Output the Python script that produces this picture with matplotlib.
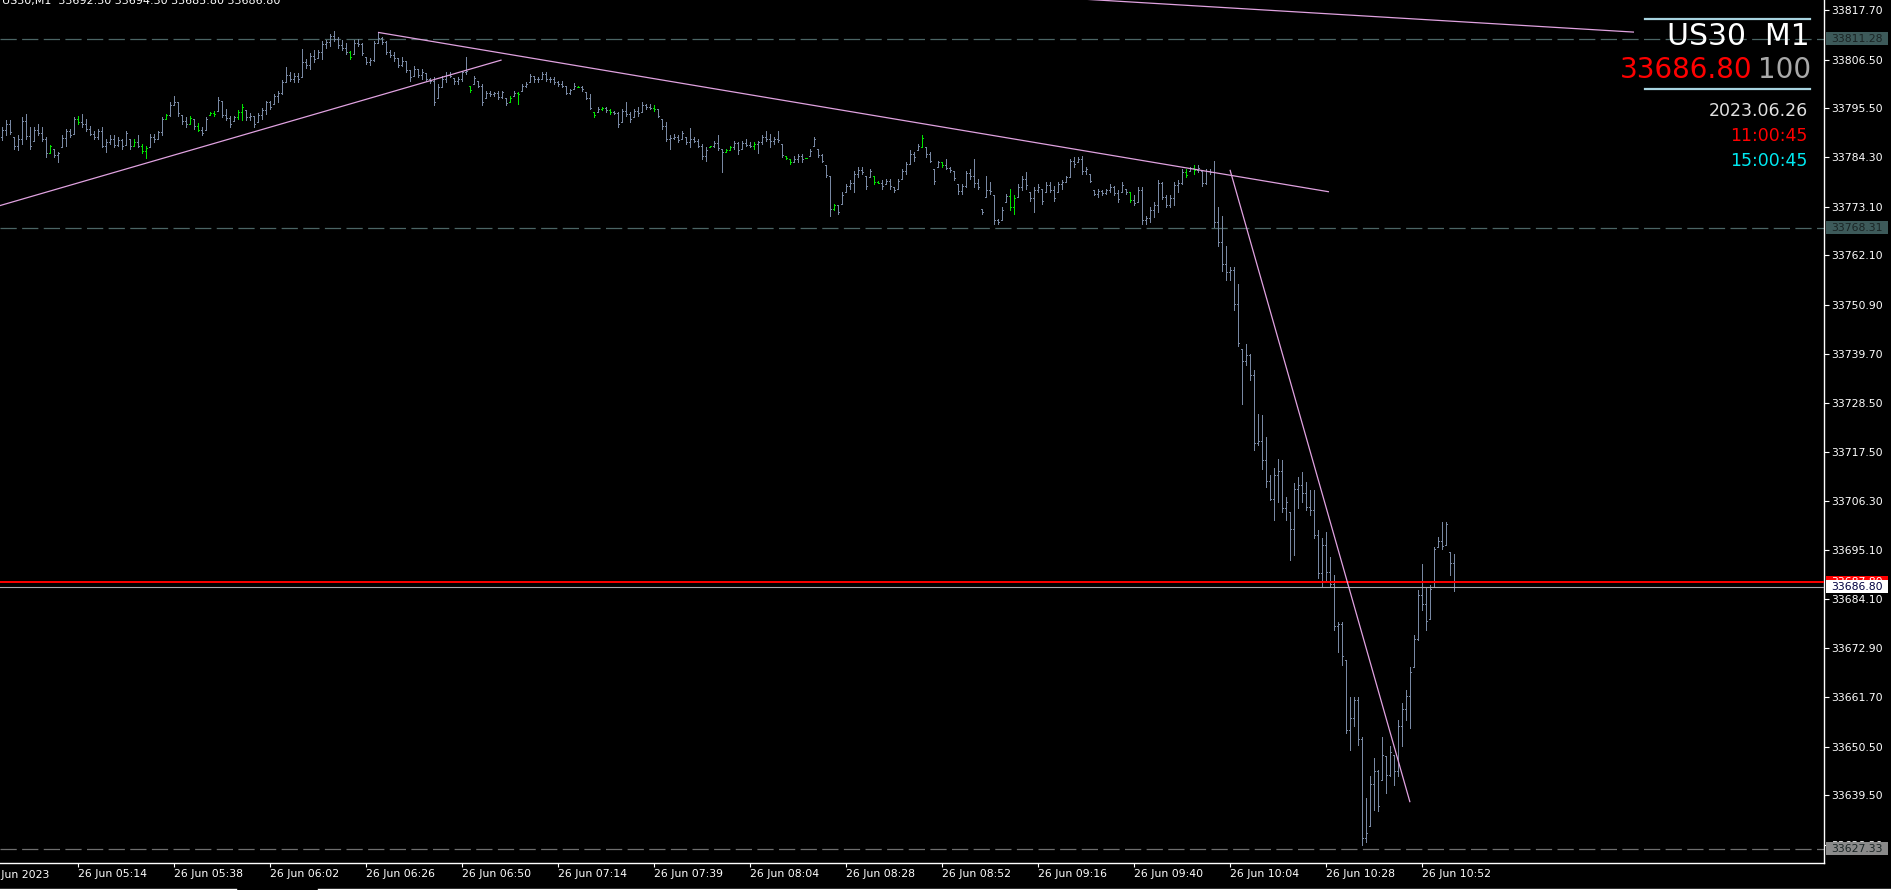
import matplotlib
matplotlib.use('Agg')
import matplotlib.pyplot as plt
from matplotlib.collections import LineCollection
from matplotlib.patches import Rectangle
from matplotlib.lines import Line2D
import matplotlib.transforms as mtransforms

# ---------------- data (US30, M1, 26 Jun 2023) ----------------
HIGH = [33791.2, 33792.7, 33792.8, 33788.9, 33789.3, 33793.4, 33794.2, 33791.2, 33791.2, 33791.9,
        33791.2, 33788.9, 33787.2, 33786.2, 33785.5, 33789.3, 33790.8, 33790.8, 33793.4, 33793.8,
        33794.2, 33793.0, 33791.5, 33790.4, 33790.8, 33791.2, 33788.5, 33789.3, 33789.3, 33788.9,
        33788.5, 33790.4, 33788.5, 33788.5, 33789.3, 33787.4, 33786.8, 33789.6, 33789.6, 33790.4,
        33793.4, 33794.2, 33796.8, 33798.3, 33796.8, 33794.0, 33793.4, 33793.8, 33793.0, 33792.1,
        33791.3, 33793.4, 33794.6, 33794.8, 33798.0, 33797.2, 33795.3, 33793.6, 33793.8, 33795.1,
        33796.5, 33795.1, 33794.3, 33793.8, 33794.3, 33795.5, 33797.2, 33797.2, 33798.6, 33799.3,
        33801.9, 33804.8, 33803.6, 33803.4, 33803.4, 33808.9, 33806.7, 33808.0, 33808.7, 33808.7,
        33810.7, 33811.0, 33812.3, 33812.9, 33811.6, 33811.0, 33810.2, 33808.4, 33811.0, 33811.2,
        33810.2, 33807.2, 33806.9, 33810.8, 33812.7, 33811.7, 33810.8, 33808.7, 33808.2, 33806.9,
        33807.0, 33806.3, 33804.2, 33805.1, 33804.4, 33804.4, 33803.4, 33802.3, 33802.5, 33801.0,
        33802.9, 33803.6, 33803.6, 33802.3, 33802.5, 33804.0, 33807.2, 33800.6, 33802.9, 33801.7,
        33801.0, 33799.5, 33799.5, 33799.1, 33799.5, 33799.5, 33797.9, 33798.3, 33799.5, 33799.1,
        33801.0, 33801.4, 33803.2, 33802.9, 33802.5, 33803.6, 33803.6, 33802.5, 33802.5, 33801.7,
        33801.7, 33800.6, 33799.8, 33801.1, 33800.6, 33800.6, 33799.1, 33798.7, 33794.6, 33795.7,
        33795.7, 33795.7, 33795.3, 33794.9, 33794.6, 33795.3, 33796.8, 33794.6, 33795.3, 33795.7,
        33796.8, 33796.4, 33796.4, 33796.1, 33795.3, 33793.0, 33792.3, 33789.3, 33789.6, 33789.3,
        33790.4, 33788.9, 33791.1, 33788.9, 33788.5, 33787.4, 33786.6, 33787.0, 33788.1, 33789.3,
        33786.2, 33786.2, 33787.0, 33788.1, 33787.7, 33788.1, 33788.5, 33787.8, 33787.8, 33788.1,
        33789.3, 33790.4, 33789.7, 33788.9, 33790.4, 33787.4, 33784.7, 33784.0, 33784.7, 33785.1,
        33785.1, 33784.2, 33786.2, 33788.9, 33786.2, 33785.1, 33782.5, 33780.2, 33773.8, 33773.4,
        33776.4, 33778.3, 33779.1, 33781.3, 33782.1, 33782.1, 33780.2, 33781.7, 33780.2, 33778.9,
        33779.1, 33779.4, 33779.4, 33777.5, 33779.4, 33781.7, 33783.2, 33785.9, 33785.5, 33787.4,
        33789.3, 33786.6, 33785.5, 33781.7, 33783.6, 33783.2, 33784.0, 33782.1, 33781.3, 33778.3,
        33778.3, 33781.3, 33781.7, 33784.0, 33779.4, 33772.6, 33780.2, 33778.7, 33775.7, 33770.4,
        33773.0, 33776.0, 33777.2, 33775.7, 33778.3, 33780.2, 33781.0, 33776.4, 33777.5, 33778.3,
        33777.2, 33778.7, 33778.7, 33777.9, 33778.7, 33779.1, 33780.2, 33784.0, 33784.4, 33784.4,
        33784.7, 33782.1, 33780.6, 33776.8, 33777.2, 33776.8, 33777.2, 33778.3, 33777.9, 33776.8,
        33778.7, 33777.2, 33776.4, 33775.7, 33777.5, 33777.5, 33771.1, 33773.0, 33774.1, 33779.1,
        33778.7, 33775.7, 33775.7, 33778.7, 33779.1, 33781.7, 33781.7, 33782.1, 33782.5, 33782.5,
        33781.3, 33781.7, 33781.7, 33783.6, 33773.0, 33771.1, 33764.3, 33759.4, 33759.4, 33755.6,
        33740.9, 33742.0, 33739.7, 33736.0, 33726.1, 33725.8, 33720.8, 33712.2, 33713.7, 33715.9,
        33715.6, 33707.2, 33703.8, 33710.3, 33711.8, 33712.9, 33710.6, 33708.8, 33708.8, 33699.7,
        33697.8, 33699.3, 33693.6, 33689.5, 33678.9, 33678.9, 33670.2, 33661.9, 33661.9, 33661.9,
        33652.8, 33638.8, 33643.8, 33647.9, 33645.3, 33652.8, 33648.3, 33650.6, 33648.7, 33656.6,
        33660.4, 33663.4, 33668.7, 33675.9, 33686.1, 33692.1, 33686.8, 33687.2, 33695.9, 33698.2,
        33701.6, 33701.6, 33694.8, 33694.3]

LOW = [33788.3, 33789.3, 33789.6, 33786.2, 33785.9, 33787.4, 33788.5, 33786.2, 33788.1, 33789.3,
       33788.1, 33784.4, 33785.3, 33784.4, 33783.2, 33786.6, 33787.0, 33788.9, 33789.6, 33791.9,
       33791.2, 33790.4, 33789.3, 33788.5, 33788.5, 33786.6, 33785.5, 33787.4, 33786.6, 33786.8,
       33786.2, 33787.2, 33786.2, 33786.8, 33786.6, 33785.3, 33784.2, 33786.6, 33787.8, 33788.5,
       33789.3, 33793.0, 33793.8, 33796.1, 33793.8, 33791.9, 33791.2, 33791.9, 33790.8, 33790.2,
       33789.3, 33790.5, 33794.0, 33793.6, 33794.8, 33793.4, 33792.7, 33791.2, 33792.5, 33793.0,
       33792.7, 33792.7, 33792.7, 33791.2, 33792.3, 33793.0, 33794.2, 33795.3, 33796.5, 33796.8,
       33798.6, 33801.4, 33801.7, 33801.4, 33801.5, 33802.5, 33804.6, 33804.4, 33805.9, 33806.9,
       33806.7, 33809.1, 33809.5, 33810.7, 33809.1, 33808.6, 33807.8, 33806.7, 33807.8, 33809.5,
       33807.6, 33805.5, 33805.4, 33806.1, 33810.2, 33810.1, 33807.8, 33807.0, 33806.3, 33804.8,
       33805.1, 33803.6, 33801.7, 33802.7, 33802.5, 33802.1, 33801.7, 33801.1, 33796.2, 33797.9,
       33800.2, 33801.4, 33802.5, 33801.0, 33801.0, 33801.7, 33803.2, 33799.1, 33801.0, 33800.2,
       33796.1, 33797.9, 33798.3, 33798.3, 33797.6, 33797.9, 33796.1, 33796.8, 33798.3, 33796.4,
       33799.5, 33800.2, 33801.4, 33801.4, 33801.4, 33802.1, 33801.7, 33801.4, 33801.0, 33800.6,
       33800.2, 33798.7, 33798.7, 33799.8, 33800.2, 33799.5, 33797.6, 33795.3, 33793.4, 33794.6,
       33795.1, 33794.6, 33794.2, 33794.2, 33791.2, 33792.3, 33793.8, 33792.3, 33793.4, 33793.8,
       33794.6, 33795.3, 33795.3, 33794.9, 33793.4, 33790.8, 33788.1, 33786.2, 33788.5, 33787.7,
       33788.5, 33787.4, 33786.6, 33787.7, 33786.6, 33784.0, 33783.6, 33786.6, 33786.6, 33785.9,
       33780.9, 33785.5, 33785.9, 33786.2, 33785.1, 33786.2, 33787.0, 33786.6, 33786.2, 33785.3,
       33787.4, 33788.1, 33786.6, 33787.4, 33787.8, 33784.4, 33784.0, 33782.8, 33783.2, 33783.2,
       33783.2, 33784.1, 33784.7, 33787.0, 33784.4, 33783.2, 33779.8, 33771.1, 33772.3, 33771.5,
       33773.8, 33776.4, 33777.2, 33776.4, 33779.8, 33780.6, 33777.2, 33779.8, 33778.3, 33778.5,
       33777.2, 33778.3, 33777.2, 33776.4, 33777.2, 33779.4, 33780.6, 33782.8, 33783.6, 33785.9,
       33786.6, 33784.4, 33783.2, 33778.3, 33782.1, 33782.1, 33781.7, 33781.0, 33779.1, 33776.0,
       33776.0, 33777.5, 33779.4, 33777.5, 33777.2, 33771.5, 33775.3, 33776.0, 33769.2, 33769.2,
       33770.0, 33774.2, 33772.3, 33771.5, 33775.3, 33776.8, 33777.2, 33774.5, 33771.9, 33776.4,
       33773.8, 33776.4, 33776.4, 33774.5, 33776.4, 33777.2, 33778.7, 33779.8, 33782.1, 33783.2,
       33780.6, 33780.6, 33778.7, 33775.7, 33775.3, 33775.7, 33776.0, 33776.4, 33775.7, 33774.2,
       33776.4, 33776.0, 33774.1, 33773.4, 33774.1, 33769.2, 33769.2, 33769.6, 33770.7, 33771.9,
       33774.9, 33773.0, 33773.0, 33773.4, 33776.4, 33778.3, 33779.8, 33781.3, 33780.6, 33781.0,
       33777.9, 33778.3, 33780.6, 33768.5, 33764.3, 33758.6, 33756.4, 33756.4, 33749.6, 33741.6,
       33728.4, 33737.1, 33733.7, 33717.8, 33718.9, 33713.6, 33709.5, 33706.5, 33702.0, 33706.1,
       33703.8, 33702.0, 33692.9, 33694.0, 33704.6, 33706.1, 33704.2, 33703.1, 33697.8, 33688.7,
       33686.8, 33688.4, 33686.8, 33677.0, 33672.1, 33669.1, 33653.6, 33649.8, 33655.1, 33650.9,
       33628.3, 33628.8, 33632.4, 33636.2, 33635.8, 33643.0, 33640.0, 33643.8, 33641.9, 33643.8,
       33650.6, 33656.6, 33654.7, 33668.7, 33674.7, 33681.5, 33677.0, 33679.6, 33686.8, 33695.9,
       33695.5, 33696.3, 33689.5, 33685.8]

OPEN = [33789.0, 33790.5, 33791.8, 33788.9, 33786.8, 33788.6, 33792.5, 33789.2, 33788.1, 33790.6,
        33789.8, 33788.5, 33785.3, 33786.2, 33784.8, 33786.6, 33788.8, 33790.2, 33789.6, 33793.0,
        33792.4, 33791.8, 33790.8, 33789.7, 33789.0, 33790.3, 33787.0, 33787.8, 33788.6, 33787.2,
        33788.2, 33787.2, 33788.5, 33787.0, 33787.8, 33787.0, 33785.8, 33786.6, 33789.0, 33788.5,
        33790.0, 33793.0, 33793.9, 33796.2, 33796.8, 33794.0, 33792.6, 33792.0, 33793.0, 33791.4,
        33790.6, 33790.5, 33794.0, 33794.5, 33794.8, 33797.2, 33794.0, 33793.2, 33792.5, 33793.4,
        33794.6, 33795.1, 33793.4, 33793.8, 33792.3, 33793.9, 33795.0, 33796.8, 33796.5, 33798.2,
        33798.9, 33801.5, 33803.0, 33802.2, 33802.8, 33802.5, 33806.0, 33805.2, 33807.4, 33806.9,
        33808.2, 33810.0, 33810.6, 33811.8, 33811.2, 33809.8, 33809.2, 33808.2, 33807.8, 33810.4,
        33810.0, 33807.2, 33806.0, 33806.4, 33810.2, 33811.5, 33810.6, 33808.2, 33807.6, 33806.8,
        33805.4, 33806.2, 33804.2, 33802.7, 33804.4, 33803.0, 33803.4, 33802.2, 33801.6, 33797.9,
        33800.4, 33802.2, 33803.0, 33802.3, 33801.6, 33802.2, 33803.6, 33800.6, 33801.0, 33801.7,
        33800.6, 33797.9, 33799.0, 33798.6, 33798.9, 33798.0, 33797.9, 33796.8, 33798.3, 33799.0,
        33799.5, 33800.6, 33801.4, 33802.8, 33802.0, 33802.2, 33803.2, 33802.0, 33802.2, 33801.4,
        33801.0, 33800.6, 33799.0, 33799.8, 33800.4, 33800.4, 33799.1, 33797.8, 33794.6, 33794.6,
        33795.2, 33795.6, 33795.0, 33794.6, 33794.4, 33792.3, 33794.8, 33794.2, 33793.4, 33794.8,
        33794.6, 33796.2, 33795.8, 33795.6, 33795.3, 33793.0, 33791.4, 33788.6, 33788.8, 33789.0,
        33788.5, 33788.9, 33787.8, 33788.6, 33788.0, 33787.0, 33784.6, 33786.6, 33786.8, 33787.6,
        33786.2, 33785.6, 33786.0, 33786.6, 33787.6, 33786.2, 33787.6, 33787.2, 33786.8, 33787.4,
        33787.8, 33789.0, 33788.6, 33788.0, 33788.6, 33787.4, 33784.7, 33784.0, 33783.2, 33784.0,
        33784.6, 33784.1, 33784.7, 33787.0, 33786.2, 33784.8, 33782.5, 33780.2, 33772.6, 33773.4,
        33773.8, 33776.4, 33777.8, 33778.4, 33780.6, 33781.4, 33780.2, 33779.8, 33780.2, 33778.8,
        33778.6, 33778.3, 33779.0, 33777.5, 33777.2, 33779.4, 33781.2, 33782.8, 33785.0, 33785.9,
        33786.6, 33786.6, 33785.0, 33781.7, 33782.1, 33783.2, 33782.6, 33782.0, 33781.3, 33778.3,
        33776.6, 33777.8, 33780.8, 33780.0, 33778.4, 33772.6, 33775.3, 33777.0, 33775.7, 33770.0,
        33770.0, 33774.2, 33775.6, 33773.0, 33775.3, 33777.6, 33779.4, 33776.4, 33775.0, 33776.8,
        33777.2, 33776.4, 33778.0, 33777.0, 33776.4, 33778.2, 33778.8, 33779.8, 33783.4, 33783.2,
        33784.0, 33781.2, 33780.6, 33776.8, 33776.0, 33776.6, 33776.2, 33776.8, 33777.6, 33776.2,
        33776.4, 33777.2, 33776.4, 33774.6, 33774.1, 33776.8, 33770.0, 33770.6, 33772.4, 33773.6,
        33778.4, 33775.4, 33773.6, 33775.0, 33778.0, 33778.6, 33781.0, 33781.3, 33781.8, 33781.4,
        33781.3, 33778.6, 33781.2, 33781.0, 33769.6, 33765.0, 33760.0, 33758.2, 33758.8, 33751.0,
        33740.9, 33738.0, 33739.4, 33735.0, 33719.4, 33720.0, 33715.6, 33710.8, 33706.8, 33712.2,
        33713.0, 33704.8, 33703.8, 33700.0, 33709.0, 33710.0, 33708.2, 33705.0, 33704.2, 33698.6,
        33690.0, 33696.2, 33690.2, 33687.4, 33678.0, 33678.4, 33670.2, 33654.2, 33657.0, 33661.0,
        33652.2, 33629.8, 33632.4, 33642.0, 33645.0, 33643.0, 33648.3, 33644.0, 33648.7, 33645.0,
        33655.2, 33659.0, 33662.0, 33668.7, 33675.0, 33685.0, 33683.0, 33679.6, 33686.8, 33695.9,
        33697.2, 33696.3, 33694.8, 33692.3]

CLOSE = [33790.5, 33791.8, 33790.0, 33786.8, 33788.6, 33792.5, 33789.2, 33787.0, 33790.6, 33789.8,
         33788.5, 33785.2, 33786.9, 33784.8, 33785.2, 33788.8, 33790.2, 33789.4, 33793.0, 33792.4,
         33791.8, 33790.8, 33789.7, 33789.0, 33790.3, 33787.0, 33787.8, 33788.6, 33787.2, 33788.2,
         33786.9, 33789.8, 33787.0, 33787.8, 33787.0, 33785.8, 33786.4, 33789.0, 33788.4, 33790.0,
         33793.0, 33793.9, 33796.2, 33797.0, 33794.3, 33792.6, 33792.0, 33793.2, 33791.4, 33790.6,
         33789.8, 33793.0, 33794.5, 33794.2, 33797.4, 33794.0, 33793.2, 33792.0, 33793.4, 33794.6,
         33795.8, 33793.4, 33793.8, 33792.0, 33793.9, 33795.0, 33796.8, 33795.8, 33798.2, 33798.9,
         33801.5, 33803.0, 33802.2, 33802.8, 33802.0, 33806.0, 33805.2, 33807.4, 33806.6, 33808.2,
         33810.0, 33810.6, 33811.8, 33811.2, 33809.8, 33809.2, 33808.2, 33807.2, 33810.4, 33810.0,
         33808.0, 33806.0, 33806.4, 33810.2, 33811.5, 33810.6, 33808.2, 33807.6, 33806.8, 33805.4,
         33806.2, 33804.2, 33802.6, 33804.4, 33803.0, 33803.8, 33802.2, 33801.6, 33797.0, 33800.4,
         33802.2, 33803.0, 33802.8, 33801.6, 33802.2, 33803.6, 33804.0, 33799.6, 33802.4, 33800.6,
         33796.8, 33799.0, 33798.6, 33798.9, 33798.0, 33799.2, 33796.6, 33797.8, 33799.0, 33798.6,
         33800.6, 33801.0, 33802.8, 33802.0, 33802.2, 33803.2, 33802.0, 33802.2, 33801.4, 33801.0,
         33800.6, 33799.0, 33799.6, 33800.6, 33800.4, 33799.8, 33797.8, 33795.6, 33794.0, 33795.2,
         33795.6, 33795.0, 33794.6, 33794.4, 33792.0, 33794.8, 33794.2, 33793.0, 33794.8, 33794.4,
         33796.2, 33795.8, 33795.6, 33795.4, 33793.8, 33791.4, 33788.6, 33788.8, 33789.0, 33788.2,
         33789.8, 33787.8, 33788.6, 33788.0, 33787.0, 33784.6, 33786.0, 33786.8, 33787.6, 33786.4,
         33785.6, 33786.0, 33786.6, 33787.6, 33786.0, 33787.6, 33787.2, 33786.8, 33787.4, 33787.8,
         33789.0, 33788.6, 33788.0, 33788.6, 33788.2, 33784.8, 33784.2, 33783.2, 33784.0, 33784.6,
         33784.0, 33784.2, 33785.8, 33788.4, 33784.8, 33783.6, 33780.4, 33772.6, 33773.4, 33772.0,
         33775.8, 33777.8, 33778.4, 33780.6, 33781.4, 33781.0, 33777.8, 33781.2, 33778.8, 33778.6,
         33777.8, 33779.0, 33777.8, 33776.8, 33779.0, 33781.2, 33782.8, 33785.0, 33784.4, 33787.0,
         33788.8, 33785.0, 33783.6, 33779.0, 33783.2, 33782.6, 33782.0, 33781.4, 33779.6, 33776.6,
         33777.8, 33780.8, 33780.0, 33778.4, 33777.6, 33772.0, 33777.0, 33776.6, 33770.0, 33769.6,
         33772.4, 33775.6, 33773.0, 33775.0, 33777.6, 33779.4, 33778.0, 33775.0, 33776.8, 33777.6,
         33774.4, 33778.0, 33777.0, 33775.2, 33778.2, 33778.8, 33779.8, 33783.4, 33782.8, 33784.0,
         33781.2, 33781.6, 33779.0, 33776.0, 33776.6, 33776.2, 33776.8, 33777.6, 33776.2, 33774.8,
         33778.0, 33776.4, 33774.6, 33774.0, 33776.8, 33770.0, 33770.6, 33772.4, 33773.6, 33778.4,
         33775.4, 33773.6, 33775.0, 33778.0, 33778.6, 33781.0, 33780.4, 33781.8, 33781.4, 33782.0,
         33778.6, 33781.2, 33781.0, 33769.6, 33765.0, 33760.0, 33758.2, 33758.8, 33751.0, 33742.2,
         33738.0, 33739.4, 33735.0, 33719.4, 33720.0, 33715.6, 33710.8, 33706.8, 33712.2, 33713.0,
         33704.8, 33706.0, 33700.0, 33709.0, 33710.0, 33708.2, 33705.0, 33704.2, 33698.6, 33690.0,
         33696.2, 33690.2, 33687.4, 33678.0, 33678.4, 33671.0, 33654.2, 33657.0, 33661.0, 33652.2,
         33629.8, 33631.0, 33642.0, 33645.0, 33637.0, 33648.6, 33644.0, 33649.2, 33645.0, 33655.2,
         33659.0, 33662.0, 33667.4, 33675.0, 33685.0, 33683.0, 33679.0, 33686.4, 33695.4, 33697.2,
         33696.0, 33701.0, 33692.2, 33686.8]

GREEN_BARS = [12, 19, 33, 35, 36, 41, 47, 49, 52, 53, 59, 60, 87, 117, 127, 129, 144, 148, 150,
              152, 163, 177, 181, 182, 188, 196, 197, 201, 208, 218, 219, 230, 235, 252, 253,
              282, 296, 298]

PRICE_TICKS = [33817.70, 33806.50, 33795.50, 33784.30, 33773.10, 33762.10, 33750.90, 33739.70,
               33728.50, 33717.50, 33706.30, 33695.10, 33684.10, 33672.90, 33661.70, 33650.50,
               33639.50, 33628.30]
TIME_TICK_BARS = [19, 43, 67, 91, 115, 139, 163, 187, 211, 235, 259, 283, 307, 331, 355]
TIME_TICK_LABELS = ["26 Jun 05:14", "26 Jun 05:38", "26 Jun 06:02", "26 Jun 06:26", "26 Jun 06:50",
                    "26 Jun 07:14", "26 Jun 07:39", "26 Jun 08:04", "26 Jun 08:28", "26 Jun 08:52",
                    "26 Jun 09:16", "26 Jun 09:40", "26 Jun 10:04", "26 Jun 10:28", "26 Jun 10:52"]
FIRST_DATE_LABEL = "26 Jun 2023"

# trend lines: (bar index, price) end points
TRENDLINES = [((-10, 33770.87), (124.9, 33806.43)),
              ((94, 33812.7), (331.75, 33776.5)),
              ((250, 33821.35), (408, 33812.76)),
              ((307, 33781.5), (352, 33637.9))]
DASHED_LEVELS = [(33811.28, '#4b6565', '#3d5a5a'), (33768.31, '#4b6565', '#3d5a5a'),
                 (33627.33, '#6e6e6e', '#8a8a8a')]
ASK = 33687.80
BID = 33686.80
SYMBOL = "US30"
PERIOD = "M1"
SPREAD = "100"
DATE_TEXT = "2023.06.26"
SERVER_TIME = "11:00:45"
LOCAL_TIME = "15:00:45"
LAST_OHLC = (33692.30, 33694.30, 33685.80, 33686.80)

# ---------------- figure ----------------
W, H = 1891, 890
DPI = 100
plt.rcParams['font.family'] = ['DejaVu Sans']
fig = plt.figure(figsize=(W / DPI, H / DPI), dpi=DPI, facecolor='black')
AX_RIGHT = 1824
AX_BOTTOM = 863
ax = fig.add_axes([0, (H - AX_BOTTOM) / H, AX_RIGHT / W, AX_BOTTOM / H])
ax.set_facecolor('black')
ax.set_xlim(-0.5, 455.5)
ax.set_ylim(33624.1, 33820.05)

BAR_COL = '#7888a3'
GREEN_COL = '#00e400'
n = len(HIGH)
segs, cols = [], []
gset = set(GREEN_BARS)
for i in range(n):
    c = GREEN_COL if i in gset else BAR_COL
    segs.append([(i, LOW[i]), (i, HIGH[i])])
    segs.append([(i - 0.3, OPEN[i]), (i, OPEN[i])])
    segs.append([(i, CLOSE[i]), (i + 0.3, CLOSE[i])])
    cols += [c, c, c]
lc = LineCollection(segs, colors=cols, linewidths=0.72, antialiaseds=False, zorder=3)
ax.add_collection(lc)

# dashed horizontal levels
for lvl, lc_col, _ in DASHED_LEVELS:
    ax.axhline(lvl, color=lc_col, lw=0.9, dashes=(13, 4.3), zorder=2)

# ask / bid lines
ax.axhline(ASK, color='#ff0000', lw=1.4, zorder=4)
ax.axhline(BID, color='#a8a8b0', lw=0.8, zorder=4)

# trend lines
for (x0, y0), (x1, y1) in TRENDLINES:
    ax.plot([x0, x1], [y0, y1], color='#e0a2e0', lw=0.9, zorder=5, solid_capstyle='butt')

# axes styling
for s in ['top', 'left']:
    ax.spines[s].set_visible(False)
for s in ['right', 'bottom']:
    ax.spines[s].set_color('white')
    ax.spines[s].set_linewidth(1.0)
ax.yaxis.tick_right()
ax.set_yticks(PRICE_TICKS)
ax.set_yticklabels([f"{p:.2f}" for p in PRICE_TICKS])
ax.tick_params(axis='y', colors='white', labelcolor='white', direction='out', length=3.6,
               width=0.8, pad=1.5, labelsize=7.8)
ax.set_xticks(TIME_TICK_BARS)
ax.set_xticklabels(TIME_TICK_LABELS)
ax.tick_params(axis='x', colors='white', labelcolor='white', direction='out', length=3.2,
               width=0.8, pad=1.2, labelsize=7.8)
for lab in ax.get_xticklabels():
    lab.set_horizontalalignment('left')
ax.text(-4.5, 33624.1, FIRST_DATE_LABEL, color='white', fontsize=7.8, ha='left', va='top',
        transform=mtransforms.offset_copy(ax.transData, fig=fig, x=0, y=-5.2, units='points'),
        clip_on=False)

# right-axis price labels
btrans = mtransforms.blended_transform_factory(fig.transFigure, ax.transData)
px_per_pt = AX_BOTTOM / (33820.05 - 33624.1)


def price_box(price, bg, fg, z=6):
    hgt = 13 / px_per_pt
    ax.add_patch(Rectangle((1826 / W, price - hgt / 2), 62 / W, hgt, transform=btrans,
                           facecolor=bg, edgecolor='none', clip_on=False, zorder=z))
    ax.text(1831.5 / W, price, f"{price:.2f}", transform=btrans, color=fg, fontsize=7.8,
            ha='left', va='center', clip_on=False, zorder=z + 0.5)


for lvl, _, bg in DASHED_LEVELS:
    price_box(lvl, bg, '#1a2424')
price_box(ASK, '#ff0000', '#ffffff', z=7)
price_box(BID, '#ffffff', '#000040', z=8)

# top-left caption
fig.text(2 / W, 1 - 3.6 / H, f"{SYMBOL},{PERIOD}  " + " ".join(f"{v:.2f}" for v in LAST_OHLC),
         color='white', fontsize=8, ha='left', va='baseline')

# info panel (top right)
def fy(y):
    return 1 - y / H

for yl in (19.3, 89.3):
    fig.add_artist(Line2D([1645 / W, 1810 / W], [fy(yl), fy(yl)], color='#a8d4e0', lw=1.6))
fig.text(1810 / W, fy(45), f"{SYMBOL}  {PERIOD}", color='white', fontsize=21.5,
         ha='right', va='baseline')
fig.text(1811 / W, fy(77.5), SPREAD, color='#a9a9a9', fontsize=20, ha='right', va='baseline')
fig.text(1752 / W, fy(77.5), f"{BID:.2f}", color='#ff0000', fontsize=20, ha='right',
         va='baseline')
fig.text(1808 / W, fy(116), DATE_TEXT, color='#e0e0e0', fontsize=12.5, ha='right', va='baseline')
fig.text(1808 / W, fy(141), SERVER_TIME, color='#ff0000', fontsize=12.5, ha='right', va='baseline')
fig.text(1808 / W, fy(165.5), LOCAL_TIME, color='#00e8f0', fontsize=12.5, ha='right', va='baseline')

# bottom window strip
fig.add_artist(Line2D([0, 236 / W], [0.8 / H, 0.8 / H], color='white', lw=1.0))
fig.add_artist(Line2D([318 / W, 1], [0.8 / H, 0.8 / H], color='white', lw=1.0))

fig.savefig('out.png', dpi=DPI, facecolor='black')
